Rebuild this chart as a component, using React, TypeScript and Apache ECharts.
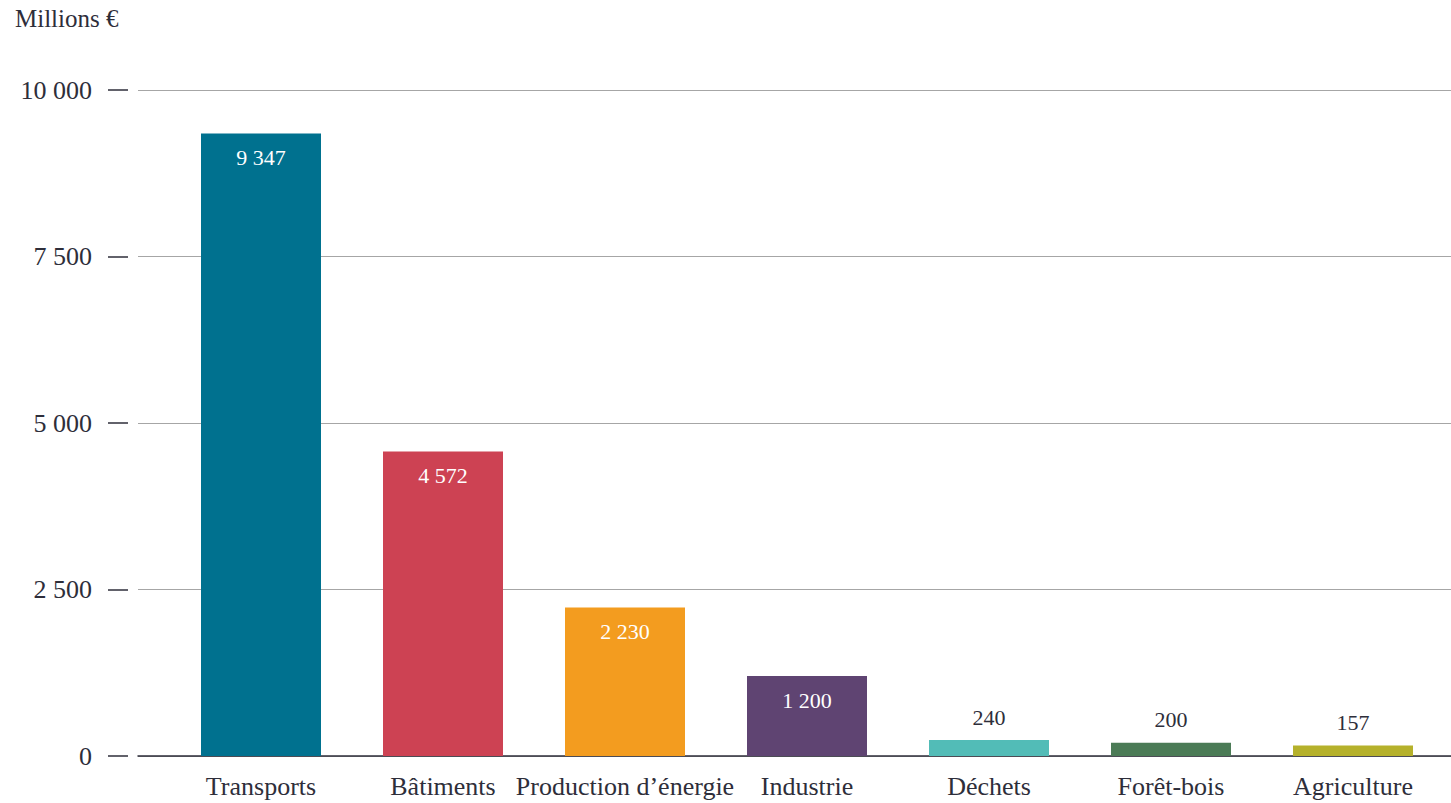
import React, { useEffect, useRef } from "react";
import * as echarts from "echarts";

const categories = ["Transports", "Bâtiments", "Production d’énergie", "Industrie", "Déchets", "Forêt-bois", "Agriculture"];
const values = [9347, 4572, 2230, 1200, 240, 200, 157];
const colors = ["#00718f", "#cd4253", "#f39c1f", "#5f4472", "#52bcb7", "#4b7b56", "#b5b12b"];
const insideLabel = [true, true, true, true, false, false, false];
const yTicks = [0, 2500, 5000, 7500, 10000];
const unitLabel = "Millions €";

const FONT = "'Liberation Serif', 'DejaVu Serif', serif";
const TEXT = "#2e2e3a";

function fmt(v: number): string {
  return String(Math.round(v)).replace(/\B(?=(\d{3})+(?!\d))/g, " ");
}

export default function App() {
  const ref = useRef<HTMLDivElement>(null);
  useEffect(() => {
    document.body.style.margin = "0";
    if (!ref.current) return;
    const chart = echarts.init(ref.current, undefined, { renderer: "svg" });
    const yMax = yTicks[yTicks.length - 1];
    chart.setOption({
      animation: false,
      backgroundColor: "#ffffff",
      graphic: [
        {
          type: "text",
          left: 15,
          top: 6,
          style: { text: unitLabel, font: `25px ${FONT}`, fill: TEXT },
        },
      ],
      grid: [
        { left: 138, right: 0, top: 90, bottom: 47 },
        { left: 170, right: 7, top: 90, bottom: 47 },
      ],
      xAxis: [
        {
          type: "category",
          gridIndex: 0,
          data: categories,
          axisLine: { show: true, lineStyle: { color: "#2e2e3a", width: 1.5 } },
          axisTick: { show: false },
          axisLabel: { show: false },
          splitLine: { show: false },
        },
        {
          type: "category",
          gridIndex: 1,
          data: categories,
          axisLine: { show: false },
          axisTick: { show: false },
          axisLabel: {
            show: true,
            margin: 17,
            fontFamily: FONT,
            fontSize: 26,
            color: TEXT,
            interval: 0,
          },
        },
      ],
      yAxis: [
        {
          type: "value",
          gridIndex: 0,
          min: 0,
          max: yMax,
          interval: 2500,
          offset: 10,
          axisLine: { show: false },
          axisTick: { show: true, length: 20, lineStyle: { color: "#2e2e3a", width: 1.5 } },
          axisLabel: {
            margin: 36,
            fontFamily: FONT,
            fontSize: 26,
            color: TEXT,
            formatter: (v: number) => fmt(v),
          },
          splitLine: { show: true, lineStyle: { color: "#a6a6a6", width: 1 } },
        },
        {
          type: "value",
          gridIndex: 1,
          min: 0,
          max: yMax,
          interval: 2500,
          show: false,
          splitLine: { show: false },
        },
      ],
      series: [
        {
          type: "bar",
          xAxisIndex: 1,
          yAxisIndex: 1,
          barWidth: 120,
          data: values.map((v, i) => ({
            value: v,
            itemStyle: { color: colors[i] },
            label: insideLabel[i]
              ? { position: "insideTop", distance: 13, color: "#ffffff" }
              : { position: "top", distance: 12, color: TEXT },
          })),
          label: {
            show: true,
            fontFamily: FONT,
            fontSize: 22,
            formatter: (p: any) => fmt(p.value),
          },
        },
      ],
    });
    return () => chart.dispose();
  }, []);
  return <div ref={ref} style={{ width: 1451, height: 803 }} />;
}
